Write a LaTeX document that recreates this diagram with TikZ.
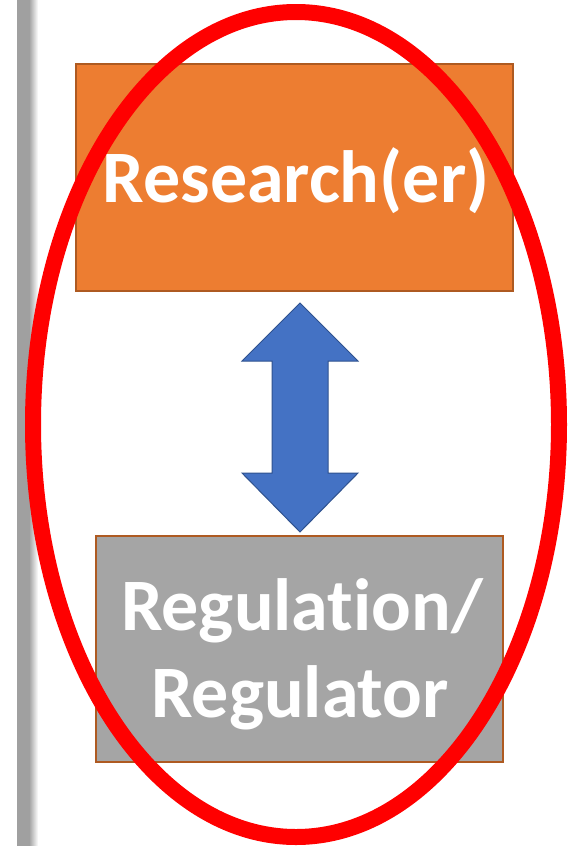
\documentclass[tikz,border=0pt]{standalone}
\usepackage{fontspec}
\setmainfont{Carlito}[RawFeature={-liga}]
\definecolor{boxorange}{HTML}{ED7D31}
\definecolor{boxgray}{HTML}{A5A5A5}
\definecolor{boxedge}{HTML}{AE5A21}
\definecolor{arrowfill}{HTML}{4472C4}
\definecolor{arrowedge}{HTML}{2F528F}
\definecolor{barcol}{HTML}{A0A0A0}
\begin{document}
\begin{tikzpicture}[x=1pt,y=-1pt,
  boxstyle/.style={draw=boxedge, line width=1.6pt},
  labelstyle/.style={text=white, font=\bfseries\fontsize{74}{87}\selectfont, align=center, inner sep=0pt},
  ringstyle/.style={draw=red, line width=16pt}]
\useasboundingbox (0,0) rectangle (582,846);
\fill[white] (0,0) rectangle (582,846);
% left bar
\fill[barcol] (17,0) rectangle (29.5,846);
\shade[left color=barcol, right color=white] (29,0) rectangle (38,846);
% boxes
\path[boxstyle, fill=boxorange] (76,64) rectangle (513,291);
\node[labelstyle, anchor=base] (res) at (296,202) {Research(er)};
\path[boxstyle, fill=boxgray] (96,536) rectangle (503,762);
\node[labelstyle, anchor=base] (reg1) at (302,630) {Regulation/};
\node[labelstyle, anchor=base] (reg2) at (300,717) {Regulator};
% double arrow
\draw[fill=arrowfill, draw=arrowedge, line width=1pt, line join=miter]
  (300,303) -- (358,361) -- (328,361) -- (328,473) -- (358,473) -- (300,532)
  -- (242,473) -- (272,473) -- (272,361) -- (242,361) -- cycle;
% ring
\draw[ringstyle] (296,424.5) ellipse [x radius=263, y radius=412.5];
\end{tikzpicture}
\end{document}
